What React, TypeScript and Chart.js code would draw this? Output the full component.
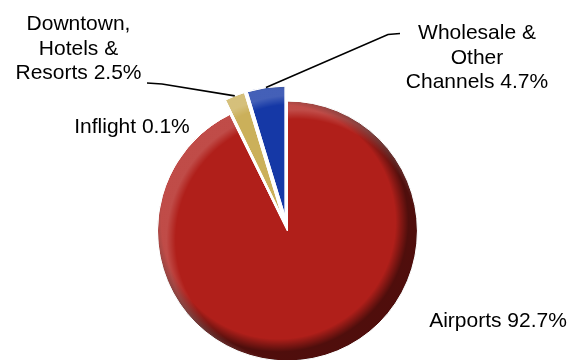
import React, { useEffect, useRef } from "react";
import { Chart, registerables } from "chart.js";

Chart.register(...registerables);

const categories = ["Airports", "Inflight", "Downtown, Hotels & Resorts", "Wholesale & Other Channels"];
const shares = [92.7, 0.1, 2.5, 4.7];
const labelText = [
  ["Airports 92.7%"],
  ["Inflight 0.1%"],
  ["Downtown,", "Hotels &", "Resorts 2.5%"],
  ["Wholesale &", "Other", "Channels 4.7%"],
];
const sliceColors = ["#B01F1A", "#D9C77A", "#CBB05A", "#1538A6"];
const explodeDistance = [2, 13, 13, 13];

// label placement: text centre x, first baseline y, leader-line bends
const labelLayout: { x: number; y: number; line: number[][] | null }[] = [
  { x: 498, y: 327, line: null },
  { x: 132, y: 133, line: null },
  { x: 78.5, y: 30, line: [[162, 84], [147, 83]] },
  { x: 477, y: 39, line: [[388, 34.5], [400, 33.5]] },
];

function shade(ctx: CanvasRenderingContext2D, arc: any) {
  const { x, y, startAngle, endAngle, outerRadius: r } = arc;
  ctx.save();
  ctx.beginPath();
  ctx.moveTo(x, y);
  ctx.arc(x, y, r, startAngle, endAngle);
  ctx.closePath();
  ctx.clip();
  const s = r * 0.07;
  let g = ctx.createRadialGradient(x - s, y - s, 0, x - s, y - s, r);
  g.addColorStop(0, "rgba(0,0,0,0)");
  g.addColorStop(0.9, "rgba(0,0,0,0)");
  g.addColorStop(1, "rgba(0,0,0,0.55)");
  ctx.fillStyle = g;
  ctx.fillRect(x - r * 1.3, y - r * 1.3, r * 2.6, r * 2.6);
  g = ctx.createRadialGradient(x + s, y + s, 0, x + s, y + s, r);
  g.addColorStop(0, "rgba(255,255,255,0)");
  g.addColorStop(0.93, "rgba(255,255,255,0)");
  g.addColorStop(1, "rgba(255,255,255,0.2)");
  ctx.fillStyle = g;
  ctx.fillRect(x - r * 1.3, y - r * 1.3, r * 2.6, r * 2.6);
  ctx.restore();
  // white edge
  ctx.save();
  ctx.beginPath();
  ctx.moveTo(x, y);
  ctx.arc(x, y, r, startAngle, endAngle);
  ctx.closePath();
  ctx.strokeStyle = "#ffffff";
  ctx.lineWidth = 1;
  ctx.stroke();
  ctx.restore();
}

const explodePlugin = {
  id: "explodeAndLabels",
  beforeDatasetDraw(chart: any, args: any) {
    const ctx = chart.ctx as CanvasRenderingContext2D;
    const meta = args.meta;
    meta.data.forEach((arc: any, i: number) => {
      const half = (arc.startAngle + arc.endAngle) / 2;
      const d = explodeDistance[i] || 0;
      ctx.save();
      ctx.translate(Math.cos(half) * d, Math.sin(half) * d);
      arc.draw(ctx);
      shade(ctx, arc);
      ctx.restore();
    });
    return false;
  },
  afterDraw(chart: any) {
    const ctx = chart.ctx as CanvasRenderingContext2D;
    const meta = chart.getDatasetMeta(0);
    ctx.save();
    ctx.font = "21px 'Liberation Sans', Arial, sans-serif";
    ctx.fillStyle = "#000000";
    ctx.textAlign = "center";
    ctx.textBaseline = "alphabetic";
    meta.data.forEach((arc: any, i: number) => {
      const lay = labelLayout[i];
      const lines = labelText[i];
      lines.forEach((t, k) => ctx.fillText(t, lay.x, lay.y + k * 24.5));
      if (lay.line) {
        const half = (arc.startAngle + arc.endAngle) / 2;
        const d = explodeDistance[i] || 0;
        const sx = arc.x + Math.cos(half) * (arc.outerRadius + d);
        const sy = arc.y + Math.sin(half) * (arc.outerRadius + d);
        ctx.beginPath();
        ctx.moveTo(sx, sy);
        lay.line.forEach((p) => ctx.lineTo(p[0], p[1]));
        ctx.strokeStyle = "#000000";
        ctx.lineWidth = 1.6;
        ctx.stroke();
      }
    });
    ctx.restore();
  },
};

export default function App() {
  const ref = useRef<HTMLCanvasElement | null>(null);
  useEffect(() => {
    if (!ref.current) return;
    const chart = new Chart(ref.current, {
      type: "pie",
      data: {
        labels: categories,
        datasets: [
          {
            data: shares,
            backgroundColor: sliceColors,
            borderColor: "#ffffff",
            borderWidth: 1,
            offset: 0,
            clip: false,
          } as any,
        ],
      },
      options: {
        animation: false,
        responsive: false,
        maintainAspectRatio: false,
        radius: 130,
        events: [],
        layout: { padding: { left: 3, right: 0, top: 98, bottom: 0 } },
        plugins: { legend: { display: false }, tooltip: { enabled: false }, title: { display: false } },
      } as any,
      plugins: [explodePlugin as any],
    });
    return () => chart.destroy();
  }, []);
  return (
    <div style={{ position: "absolute", left: 0, top: 0, width: 571, height: 360, background: "#fff" }}>
      <canvas ref={ref} width={571} height={360} style={{ width: 571, height: 360, display: "block" }} />
    </div>
  );
}
